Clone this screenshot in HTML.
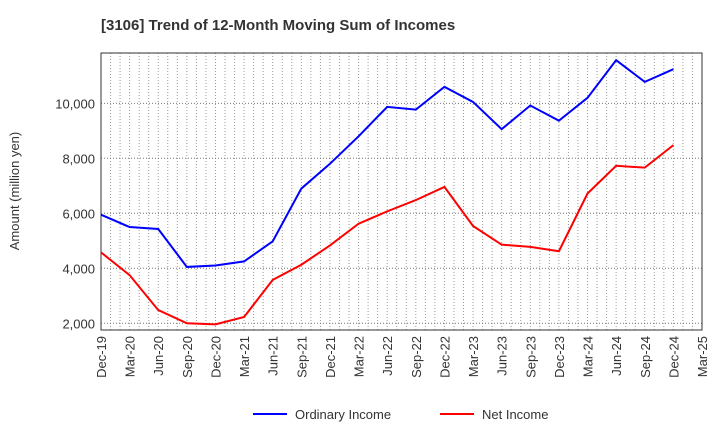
<!DOCTYPE html>
<html><head><meta charset="utf-8"><style>
body{margin:0;background:#fff;font-family:"Liberation Sans",sans-serif;}
</style></head><body>
<svg id="chart" width="720" height="440" xmlns="http://www.w3.org/2000/svg" font-family="Liberation Sans, sans-serif">
<text x="101" y="30" font-size="15" font-weight="bold" fill="#333">[3106]  Trend of 12-Month Moving Sum of Incomes</text>
<text transform="translate(19,191) rotate(-90)" text-anchor="middle" font-size="13" fill="#333">Amount (million yen)</text>
<g id="grid"></g><g id="axes"></g><g id="series"></g>
<g>
<line x1="253" y1="414" x2="287" y2="414" stroke="#0000ff" stroke-width="2"/>
<text x="295" y="419" font-size="13" fill="#333">Ordinary Income</text>
<line x1="440" y1="414" x2="474" y2="414" stroke="#ff0000" stroke-width="2"/>
<text x="482" y="419" font-size="13" fill="#333">Net Income</text>
</g>
</svg>
<script>
const categories=["Dec-19","Mar-20","Jun-20","Sep-20","Dec-20","Mar-21","Jun-21","Sep-21","Dec-21","Mar-22","Jun-22","Sep-22","Dec-22","Mar-23","Jun-23","Sep-23","Dec-23","Mar-24","Jun-24","Sep-24","Dec-24","Mar-25"];
const ordinaryIncome=[5950,5500,5430,4050,4100,4250,4980,6900,7800,8800,9870,9770,10600,10050,9060,9920,9370,10200,11570,10780,11240];
const netIncome=[4580,3750,2480,2000,1960,2230,3580,4130,4830,5620,6070,6480,6960,5540,4860,4780,4620,6720,7730,7660,8480];
const yTicks=[2000,4000,6000,8000,10000];
const L=101,R=702,T=53,B=330,yMin=1756,yMax=11830;
const NS="http://www.w3.org/2000/svg";
const xs=i=>L+i*(R-L)/(categories.length-1);
const ys=v=>B-(v-yMin)/(yMax-yMin)*(B-T);
function mk(tag,attrs,parent){const e=document.createElementNS(NS,tag);for(const k in attrs)e.setAttribute(k,attrs[k]);parent.appendChild(e);return e;}
const grid=document.getElementById('grid'),axes=document.getElementById('axes'),series=document.getElementById('series');
const step=(R-L)/((categories.length-1)*3);
for(let m=1;m<(categories.length-1)*3;m++){
 const l=mk('line',{x1:L+m*step,x2:L+m*step,y1:T,y2:B,stroke:'#999','stroke-width':1,'stroke-dasharray':'1,2'},grid);
 
 
}
yTicks.forEach(v=>{
 const l=mk('line',{x1:L,x2:R,y1:ys(v),y2:ys(v),stroke:'#777','stroke-width':1,'stroke-dasharray':'1,2'},grid);
 
 
 const t=mk('text',{x:L-6,y:ys(v)+5,'text-anchor':'end','font-size':13,fill:'#333'},axes);
 t.textContent=v.toLocaleString('en-US');
 
 
});
categories.forEach((c,i)=>{
 const t=mk('text',{transform:`translate(${xs(i)+5},${B+6}) rotate(-90)`,'text-anchor':'end','font-size':13,fill:'#333'},axes);
 t.textContent=c;
 
 
});
const frame=mk('rect',{x:L,y:T,width:R-L,height:B-T,fill:'none',stroke:'#333','stroke-width':1},axes);


function line(vals,color,name){
 const p=mk('polyline',{points:vals.map((v,i)=>xs(i)+','+ys(v)).join(' '),fill:'none',stroke:color,'stroke-width':2},series);
 
 
}
line(ordinaryIncome,'#0000ff','ordinary-income-line');
line(netIncome,'#ff0000','net-income-line');
</script>
</body></html>
